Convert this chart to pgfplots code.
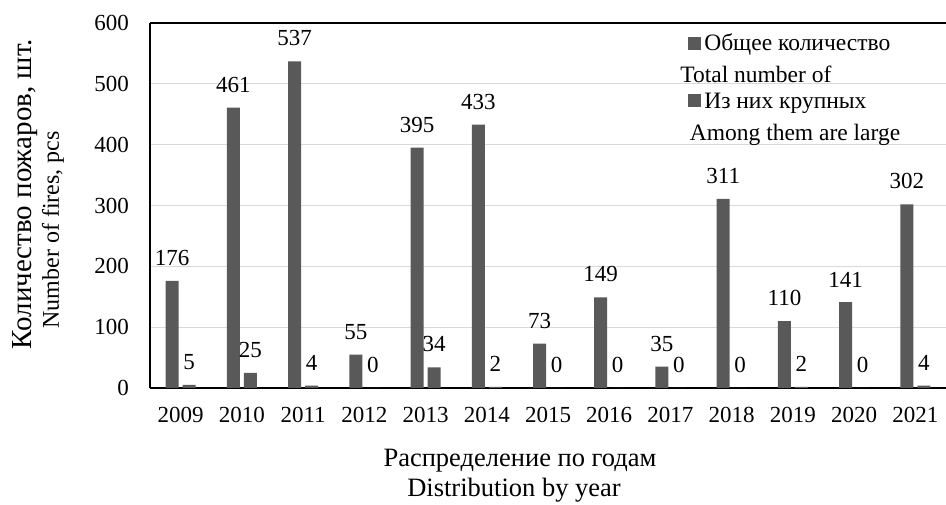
\documentclass[border=0pt]{standalone}
\usepackage{fontspec}
\setmainfont{Liberation Serif}
\usepackage{pgfplots}
\pgfplotsset{compat=1.18}
\definecolor{barc}{RGB}{89,89,89}
\definecolor{gridc}{RGB}{217,217,217}
\newcommand{\mk}{\textcolor{barc}{\rule[1bp]{13bp}{13bp}}\hspace{3bp}}
\begin{document}
\fontsize{23bp}{27bp}\selectfont
\begin{tikzpicture}[font=\fontsize{23bp}{27bp}\selectfont]
\path[use as bounding box] (0,0) rectangle (946bp,505bp);
\begin{axis}[
  at={(150bp,117bp)}, anchor=south west, scale only axis,
  width=796bp, height=365bp,
  xmin=-0.5, xmax=12.5, ymin=0, ymax=600,
  xtick={0,1,2,3,4,5,6,7,8,9,10,11,12},
  xticklabels={2009,2010,2011,2012,2013,2014,2015,2016,2017,2018,2019,2020,2021},
  ytick={0,100,200,300,400,500,600},
  ymajorgrids, grid style={gridc, line width=1.2bp},
  axis x line=box, axis y line=left,
  axis line style={-, black, line width=1.3bp},
  major tick length=0pt,
  /pgf/number format/assume math mode=true,
  xticklabel style={anchor=north, inner sep=0pt, yshift=-19bp},
  yticklabel style={anchor=east, inner sep=0pt, xshift=-21bp},
  ybar, bar width=13bp,
  nodes near coords,
  every node near coord/.append style={black, anchor=south, inner sep=0pt, yshift=15bp},
  clip=false,
]
\addplot[fill=barc, draw=none, bar shift=-8.5bp] coordinates {
  (0,176) (1,461) (2,537) (3,55) (4,395) (5,433) (6,73) (7,149) (8,35) (9,311) (10,110) (11,141) (12,302)};
\addplot[fill=barc, draw=none, bar shift=8.5bp] coordinates {
  (0,5) (1,25) (2,4) (3,0) (4,34) (5,2) (6,0) (7,0) (8,0) (9,0) (10,2) (11,0) (12,4)};
\begin{scope}[font=\fontsize{23.5bp}{27bp}\selectfont]
\node[anchor=west, inner sep=0pt] at (axis description cs:0.676,0.940) {\mk Общее количество};
\node[anchor=west, inner sep=0pt] at (axis description cs:0.666,0.860) {Total number of};
\node[anchor=west, inner sep=0pt] at (axis description cs:0.676,0.781) {\mk Из них крупных};
\node[anchor=west, inner sep=0pt] at (axis description cs:0.678,0.693) {Among them are large};
\end{scope}
\node[inner sep=0pt, rotate=90, font=\fontsize{29bp}{32bp}\selectfont] at (axis description cs:-0.1564,0.531) {Количество пожаров, шт.};
\node[inner sep=0pt, rotate=90, font=\fontsize{24bp}{27bp}\selectfont] at (axis description cs:-0.1219,0.433) {Number of fires, pcs};
\node[inner sep=0pt, font=\fontsize{26.5bp}{30bp}\selectfont] at (axis description cs:0.4648,-0.200) {Распределение по годам};
\node[inner sep=0pt, font=\fontsize{26.5bp}{30bp}\selectfont] at (axis description cs:0.4573,-0.2795) {Distribution by year};
\end{axis}
\end{tikzpicture}
\end{document}
